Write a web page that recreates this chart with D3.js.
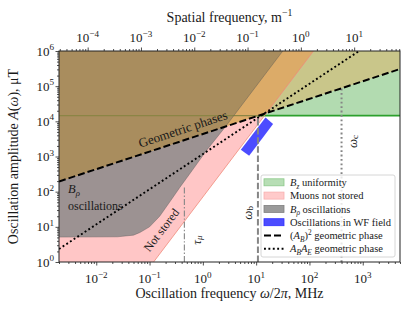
<!DOCTYPE html>
<html><head><meta charset="utf-8">
<script src="https://cdn.jsdelivr.net/npm/d3@7"></script>
<style>
body{margin:0;background:#fff}
svg{display:block}
text{font-family:"Liberation Serif","DejaVu Serif",serif;fill:#1a1a1a}
</style>
</head><body>
<svg id="c" width="415" height="316"></svg>
<script>
// ---------- data ----------
const xDomain = [2e-3, 5e3];          // oscillation frequency, MHz
const yDomain = [1, 1e6];             // amplitude, uT
const spatialFactor = 69;             // MHz per m^-1 (top axis)
const xTickValues = [1e-2, 1e-1, 1e0, 1e1, 1e2, 1e3];
const yTickValues = [1e0, 1e1, 1e2, 1e3, 1e4, 1e5, 1e6];
const topTickValues = [1e-4, 1e-3, 1e-2, 1e-1, 1e0, 1e1];

// (A_B)^2 geometric phase (dashed)
const dashedF = [2e-3, 5e3];
const dashedA = [195, 3.08e5];
// A_B A_E geometric phase (dotted)
const dottedF = [2e-3, 855];
const dottedA = [2.34, 1e6];
// Muons not stored boundary
const pinkF = [0.119, 119];
const pinkA = [1, 1e6];
// B_rho oscillations boundary
const grayF = [0.002, 0.025, 0.05, 0.066, 0.1, 0.155, 0.25, 0.37, 0.63, 1.17, 2.57, 10, 31.6];
const grayA = [5.1, 5.2, 5.8, 6.9, 10, 20, 56, 132, 400, 1480, 6600, 1e5, 1e6];
// B_z uniformity threshold
const greenA = 1.45e4;
// Oscillations in WF field (corner points)
const blueF = [15.0, 20.8, 7.39, 5.16];
const blueA = [12900, 8330, 1050, 1550];
// characteristic frequencies
const omegaB = {f: 10.8, top: 1.3e4};
const omegaC = {f: 400, top: 8.7e4};
const tauMu  = {f: 0.45, top: 150};

const legendLabels = [
  [{t:"B",it:1},{t:"z",it:1,sub:1},{t:" uniformity"}],
  [{t:"Muons not stored"}],
  [{t:"B",it:1},{t:"ρ",it:1,sub:1},{t:" oscillations"}],
  [{t:"Oscillations in WF field"}],
  [{t:"("},{t:"A",it:1},{t:"B",it:1,sub:1},{t:")"},{t:"2",sup:1},{t:" geometric phase"}],
  [{t:"A",it:1},{t:"B",it:1,sub:1},{t:"A",it:1},{t:"E",it:1,sub:1},{t:" geometric phase"}]
];

// ---------- layout ----------
const M = {l:59, r:400, t:51, b:262};
const C = {
  green:"#b2dbb0", pink:"#ffc6c6", gray:"#9c9292",
  olive:"#c9c68a", tan:"#dcab68", brown:"#a98d5e",
  greenLine:"#2ca02c", greenLineGeo:"#8b8545"
};

const svg = d3.select("#c");
const x = d3.scaleLog().domain(xDomain).range([M.l, M.r]);
const y = d3.scaleLog().domain(yDomain).range([M.b, M.t]);
const xTop = d3.scaleLog().domain(xDomain.map(v => v / spatialFactor)).range([M.l, M.r]);

const zip = (fs, as) => fs.map((f, i) => [f, as[i]]);
const line = d3.line().x(d => x(d[0])).y(d => y(d[1]));
const poly = pts => line(pts) + "Z";

const defs = svg.append("defs");
defs.append("clipPath").attr("id","plotClip").append("rect")
  .attr("x",M.l).attr("y",M.t).attr("width",M.r-M.l).attr("height",M.b-M.t);

const [x0, x1] = xDomain, [y0, y1] = yDomain;
const greenPts = [[x0, greenA], [x1, greenA], [x1, y1], [x0, y1]];
const pinkPts = [[x0, y0], ...zip(pinkF, pinkA), [x0, y1]];
const grayPts = [...zip(grayF, grayA), [x0, y1]];
const geoPts = [...zip(dashedF, dashedA), [x1, y1], [x0, y1]];

defs.append("clipPath").attr("id","geoClip").append("path").attr("d", poly(geoPts));

const g = svg.append("g").attr("clip-path","url(#plotClip)");
g.append("path").attr("d", poly(greenPts)).attr("fill", C.green);
g.append("path").attr("d", poly(pinkPts)).attr("fill", C.pink);
g.append("path").attr("d", poly(grayPts)).attr("fill", C.gray);
g.append("line").attr("x1",x(x0)).attr("x2",x(x1)).attr("y1",y(greenA)).attr("y2",y(greenA))
  .attr("stroke",C.greenLine).attr("stroke-width",1.6);

const geo = g.append("g").attr("clip-path","url(#geoClip)");
geo.append("path").attr("d", poly(greenPts)).attr("fill", C.olive);
geo.append("path").attr("d", poly(pinkPts)).attr("fill", C.tan);
geo.append("path").attr("d", poly(grayPts)).attr("fill", C.brown);
geo.append("line").attr("x1",x(x0)).attr("x2",x(x1)).attr("y1",y(greenA)).attr("y2",y(greenA))
  .attr("stroke",C.greenLineGeo).attr("stroke-width",1.4);

// edges
g.append("path").attr("d", line(zip(grayF, grayA))).attr("fill","none")
  .attr("stroke","#555").attr("stroke-opacity",0.55).attr("stroke-width",0.7);
g.append("path").attr("d", line(zip(pinkF, pinkA))).attr("fill","none")
  .attr("stroke","#f08a7a").attr("stroke-width",0.8);

// WF field oscillations
g.append("path").attr("d", poly(zip(blueF, blueA))).attr("fill","blue").attr("fill-opacity",0.7);

// characteristic frequency lines
const vline = (o, dash, w) => g.append("line")
  .attr("x1",x(o.f)).attr("x2",x(o.f)).attr("y1",y(y0)).attr("y2",y(o.top))
  .attr("stroke","#858585").attr("stroke-width",w).attr("stroke-dasharray",dash);
vline(omegaB, "6.5,2.6", 2);
vline(omegaC, "1.8,2.6", 2);
vline(tauMu, "6,2,1.4,2", 1.1);

// geometric phase lines
g.append("path").attr("d", line(zip(dashedF, dashedA))).attr("fill","none")
  .attr("stroke","#000").attr("stroke-width",2).attr("stroke-dasharray","7,3");
g.append("path").attr("d", line(zip(dottedF, dottedA))).attr("fill","none")
  .attr("stroke","#000").attr("stroke-width",1.9).attr("stroke-dasharray","1.9,2.5");

// ---------- rich text helper ----------
function rich(sel, segs, fs){
  let shift = 0;
  segs.forEach(s => {
    const target = s.sub ? 0.25*fs : s.sup ? -0.42*fs : 0;
    const ts = sel.append("tspan").text(s.t).attr("dy", target - shift);
    shift = target;
    if (s.it) ts.attr("font-style","italic");
    if (s.sub || s.sup) ts.attr("font-size", fs*0.7);
  });
  return sel;
}
const angle = (f1,a1,f2,a2) => Math.atan2(y(a2)-y(a1), x(f2)-x(f1))*180/Math.PI;

// annotations
function note(f, a, rot, fs, segs){
  const t = svg.append("text").attr("transform",`translate(${x(f)},${y(a)}) rotate(${rot})`)
    .attr("text-anchor","middle").attr("dominant-baseline","central").attr("font-size",fs);
  rich(t, segs, fs);
}
note(0.42, 6300, angle(dashedF[0],dashedA[0],dashedF[1],dashedA[1]), 13, [{t:"Geometric phases"}]);
note(0.167, 8.1, angle(pinkF[0],pinkA[0],pinkF[1],pinkA[1]), 12, [{t:"Not stored"}]);
note(0.74, 4.2, -90, 13, [{t:"τ",it:1},{t:"μ",it:1,sub:1}]);
note(6.6, 25, -90, 13, [{t:"ω",it:1},{t:"b",sub:1}]);
note(617, 2680, -90, 13, [{t:"ω",it:1},{t:"c",sub:1}]);
rich(svg.append("text").attr("x",x(0.00295)).attr("y",y(92)).attr("font-size",12.5),
  [{t:"B",it:1},{t:"ρ",it:1,sub:1}], 12.5);
svg.append("text").attr("x",x(0.00295)).attr("y",y(30)).attr("font-size",12).text("oscillations");

// ---------- axes ----------
const tickColor = "#222";
function styleAxis(ax){
  ax.select(".domain").remove();
  ax.selectAll(".tick line").attr("stroke",tickColor).attr("stroke-width",0.8);
  ax.selectAll(".tick text").remove();
}
const isPow = v => Math.abs(Math.log10(v) - Math.round(Math.log10(v))) < 1e-6;
const minorX = x.ticks().filter(v => !isPow(v));
const minorY = y.ticks().filter(v => !isPow(v));
const minorTop = xTop.ticks().filter(v => !isPow(v));
const majX = x.ticks().filter(isPow), majY = y.ticks().filter(isPow), majTop = xTop.ticks().filter(isPow);

const axisDefs = [
  [() => d3.axisBottom(x), `translate(0,${M.b})`, majX, minorX],
  [() => d3.axisLeft(y), `translate(${M.l},0)`, majY, minorY],
  [() => d3.axisTop(xTop), `translate(0,${M.t})`, majTop, minorTop]
];
axisDefs.forEach(([make, tr, maj, mnr]) => {
  styleAxis(svg.append("g").attr("transform",tr).call(make().tickValues(maj).tickSize(3.5).tickFormat(()=>"")));
  styleAxis(svg.append("g").attr("transform",tr).call(make().tickValues(mnr).tickSize(2).tickFormat(()=>"")));
});

const fsTick = 13;
function powLabel(px, py, v, anchor){
  const t = svg.append("text").attr("x",px).attr("y",py).attr("font-size",fsTick).attr("text-anchor",anchor);
  rich(t, [{t:"10"},{t:String(Math.round(Math.log10(v))).replace("-","−"),sup:1}], fsTick);
}
xTickValues.forEach(v => powLabel(x(v), 283, v, "middle"));
topTickValues.forEach(v => powLabel(xTop(v), 42, v, "middle"));
yTickValues.forEach(v => powLabel(M.l - 5, y(v) + 4.5, v, "end"));

// axis titles
rich(svg.append("text").attr("x",(M.l+M.r)/2).attr("y",298).attr("text-anchor","middle").attr("font-size",14),
  [{t:"Oscillation frequency "},{t:"ω",it:1},{t:"/2"},{t:"π",it:1},{t:", MHz"}], 14);
rich(svg.append("text").attr("x",(M.l+M.r)/2).attr("y",22).attr("text-anchor","middle").attr("font-size",14),
  [{t:"Spatial frequency, m"},{t:"−1",sup:1}], 14);
rich(svg.append("text").attr("transform",`translate(18,${(M.t+M.b)/2}) rotate(-90)`).attr("text-anchor","middle").attr("font-size",14),
  [{t:"Oscillation amplitude "},{t:"A",it:1},{t:"("},{t:"ω",it:1},{t:"), μT"}], 14);

// frame
svg.append("rect").attr("x",M.l).attr("y",M.t).attr("width",M.r-M.l).attr("height",M.b-M.t)
  .attr("fill","none").attr("stroke","#222").attr("stroke-width",1);

// ---------- legend ----------
const L = {x:261, y:175, w:134, h:82, row0:182.3, dy:13.3, fs:10.5};
const lg = svg.append("g");
lg.append("rect").attr("x",L.x).attr("y",L.y).attr("width",L.w).attr("height",L.h).attr("rx",2)
  .attr("fill","#fff").attr("fill-opacity",0.8).attr("stroke","#ccc").attr("stroke-width",0.8);
const handles = [
  {type:"patch", fill:"#b7deb5", stroke:"#8cc98a"},
  {type:"patch", fill:"#ffcaca", stroke:"#f7b0b0"},
  {type:"patch", fill:"#9a9a9a", stroke:"#808080"},
  {type:"patch", fill:"#4c4cff", stroke:"#3030ff"},
  {type:"line", dash:"7,3", w:2},
  {type:"line", dash:"1.9,2.5", w:1.9}
];
handles.forEach((h, i) => {
  const cy = L.row0 + i*L.dy;
  if (h.type === "patch") {
    lg.append("rect").attr("x",L.x+3).attr("y",cy-3.5).attr("width",20).attr("height",7)
      .attr("fill",h.fill).attr("stroke",h.stroke).attr("stroke-width",0.8);
  } else {
    lg.append("line").attr("x1",L.x+3).attr("x2",L.x+23).attr("y1",cy).attr("y2",cy)
      .attr("stroke","#000").attr("stroke-width",h.w).attr("stroke-dasharray",h.dash);
  }
  rich(lg.append("text").attr("x",L.x+29).attr("y",cy+3.6).attr("font-size",L.fs), legendLabels[i], L.fs);
});
</script>
</body></html>
